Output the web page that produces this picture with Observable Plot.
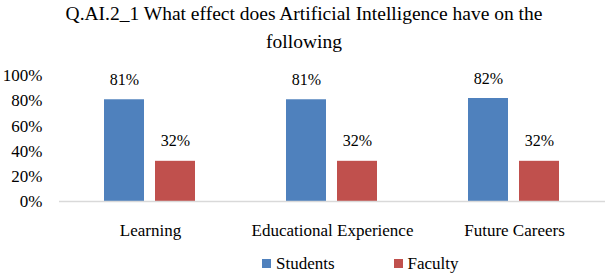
<!DOCTYPE html>
<html>
<head>
<meta charset="utf-8">
<script src="https://cdn.jsdelivr.net/npm/d3@7"></script>
<script src="https://cdn.jsdelivr.net/npm/@observablehq/plot@0.6"></script>
<style>
  html, body { margin: 0; padding: 0; background: #fff; }
  body { width: 608px; height: 279px; overflow: hidden; font-family: "Liberation Serif", serif; color: #000; }
  #title { height: 58px; text-align: center; font-size: 19.5px; line-height: 28px; padding-top: 0; box-sizing: border-box; font-family: "Liberation Serif", serif; }
  #legend { display: flex; align-items: center; height: 31px; padding-left: 262px; font-size: 17px; font-family: "Liberation Serif", serif; }
  .item { display: flex; align-items: center; margin-right: 59px; font-family: "Liberation Serif", serif; }
  .sw { width: 9px; height: 9px; margin-right: 5px; }
  svg { display: block; }
</style>
</head>
<body>
<div id="title"></div>
<div id="chart"></div>
<div id="legend"></div>
<script>
const titleLines = ["Q.AI.2_1 What effect does Artificial Intelligence have on the", "following"];
const categories = ["Learning", "Educational Experience", "Future Careers"];
const series = ["Students", "Faculty"];
const studentValues = [81, 81, 82];
const facultyValues = [32, 32, 32];
const yTicks = [0, 20, 40, 60, 80, 100];
const colors = ["#4F81BD", "#C0504D"];

document.getElementById("title").innerHTML = titleLines.join("<br>");

const data = [];
categories.forEach((c, i) => {
  data.push({category: c, series: series[0], value: studentValues[i]});
  data.push({category: c, series: series[1], value: facultyValues[i]});
});

const plot = Plot.plot({
  width: 608,
  height: 190,
  marginLeft: 58,
  marginRight: 2.5,
  marginTop: 17.4,
  marginBottom: 47,
  style: {fontFamily: "Liberation Serif, serif", fontSize: "16px", color: "#000", background: "#fff"},
  fx: {domain: categories, padding: 0, label: null},
  x: {domain: series, paddingInner: 0.21, paddingOuter: 0.86, axis: null},
  y: {domain: [0, 100], ticks: yTicks, label: null},
  color: {domain: series, range: colors},
  marks: [
    Plot.axisY({ticks: yTicks, tickSize: 0, tickPadding: 17, tickFormat: d => d + "%", fontSize: 17, label: null}),
    Plot.axisFx({tickSize: 0, tickPadding: 22, fontSize: 17, label: null, anchor: "bottom"}),
    Plot.barY(data, {fx: "category", x: "series", y: "value", fill: "series"}),
    Plot.ruleY([0], {stroke: "#d9d9d9", strokeWidth: 1.5}),
    Plot.text(data, {fx: "category", x: "series", y: "value", text: d => d.value + "%", dy: -20, lineAnchor: "middle", fontSize: 16})
  ]
});
document.getElementById("chart").appendChild(plot);

const legend = document.getElementById("legend");
series.forEach((s, i) => {
  const item = document.createElement("div");
  item.className = "item";
  const sw = document.createElement("div");
  sw.className = "sw";
  sw.style.background = colors[i];
  const t = document.createElement("span");
  t.textContent = s;
  item.appendChild(sw);
  item.appendChild(t);
  legend.appendChild(item);
});
</script>
</body>
</html>
